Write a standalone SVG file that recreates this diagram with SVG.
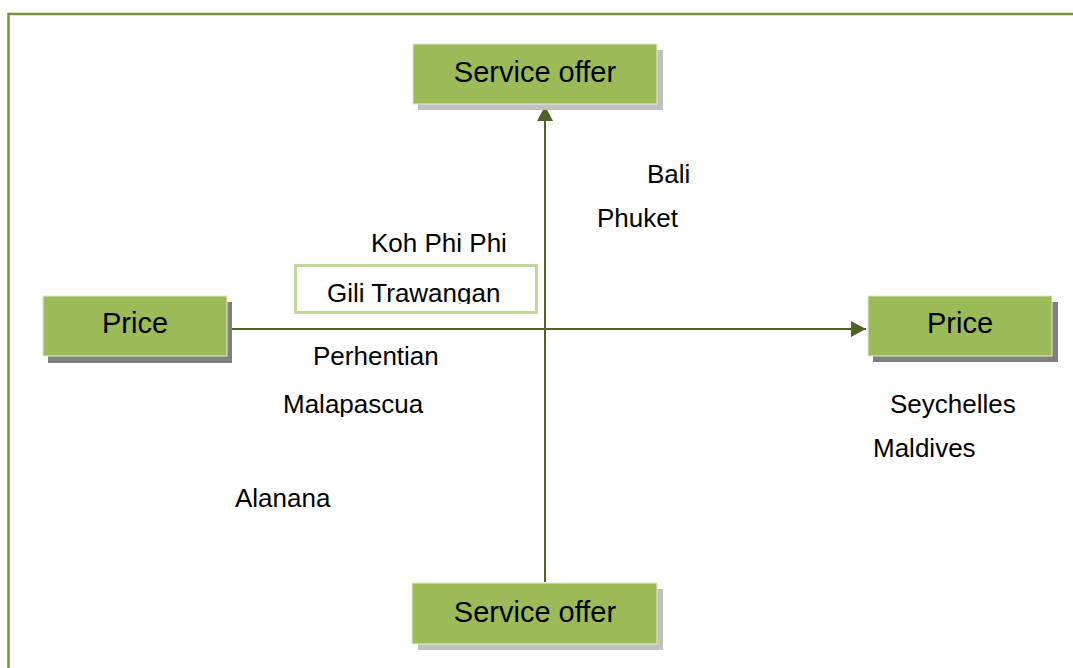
<svg xmlns="http://www.w3.org/2000/svg" width="1073" height="668" viewBox="0 0 1073 668">
<style>
.box{fill:#9bbb59;stroke:#e3ecd2;stroke-width:1}
.shL{fill:#c0c0c0}
.shD{fill:#808080}
.bt{font-family:"Liberation Sans",Arial,sans-serif;font-size:29px;fill:#000;text-anchor:middle}
.lb{font-family:"Liberation Sans",Arial,sans-serif;font-size:26px;fill:#000}
.ax{stroke:#4f6228;stroke-width:2;fill:none}
</style>
<defs>
<marker id="ah" markerWidth="16" markerHeight="16" refX="15" refY="8" orient="auto" markerUnits="userSpaceOnUse">
<path d="M0,0 L15,8 L0,16 Z" fill="#4f6228"/>
</marker>
<clipPath id="cg"><rect x="296" y="266" width="240" height="38"/></clipPath>
<clipPath id="cm"><rect x="270" y="385" width="180" height="32"/></clipPath>
</defs>
<rect x="8.5" y="14" width="1100" height="700" fill="#fff" stroke="#77933c" stroke-width="2.5"/>
<g id="connectors">
<line class="ax" x1="232" y1="329" x2="866" y2="329" marker-end="url(#ah)"/>
<line class="ax" x1="545" y1="582" x2="545" y2="106" marker-end="url(#ah)"/>
</g>
<g id="service-top">
<rect class="shL" x="418" y="50" width="245" height="60"/>
<rect class="box" x="413" y="44" width="244" height="60"/>
<text class="bt" x="535" y="82">Service offer</text>
</g>
<g id="price-left">
<rect class="shD" x="48" y="302" width="184" height="61"/>
<rect class="box" x="43" y="296" width="184" height="60"/>
<text class="bt" x="135" y="333">Price</text>
</g>
<g id="price-right">
<rect class="shD" x="873" y="302" width="185" height="60"/>
<rect class="box" x="868" y="296" width="184" height="60"/>
<text class="bt" x="960" y="333">Price</text>
</g>
<g id="service-bottom">
<rect class="shL" x="418" y="589" width="245" height="61"/>
<rect class="box" x="412" y="583" width="245" height="61"/>
<text class="bt" x="535" y="622">Service offer</text>
</g>
<g id="gili">
<rect x="295.5" y="265.5" width="241" height="47" fill="#fff" stroke="#c3d69b" stroke-width="3"/>
<text class="lb" x="327" y="302" clip-path="url(#cg)">Gili Trawangan</text>
</g>
<g id="labels">
<text class="lb" x="647" y="183">Bali</text>
<text class="lb" x="597" y="227">Phuket</text>
<text class="lb" x="371" y="252">Koh Phi Phi</text>
<text class="lb" x="313" y="365">Perhentian</text>
<text class="lb" x="283" y="413" clip-path="url(#cm)">Malapascua</text>
<text class="lb" x="235" y="507">Alanana</text>
<text class="lb" x="890" y="413">Seychelles</text>
<text class="lb" x="873" y="457">Maldives</text>
</g>
</svg>
